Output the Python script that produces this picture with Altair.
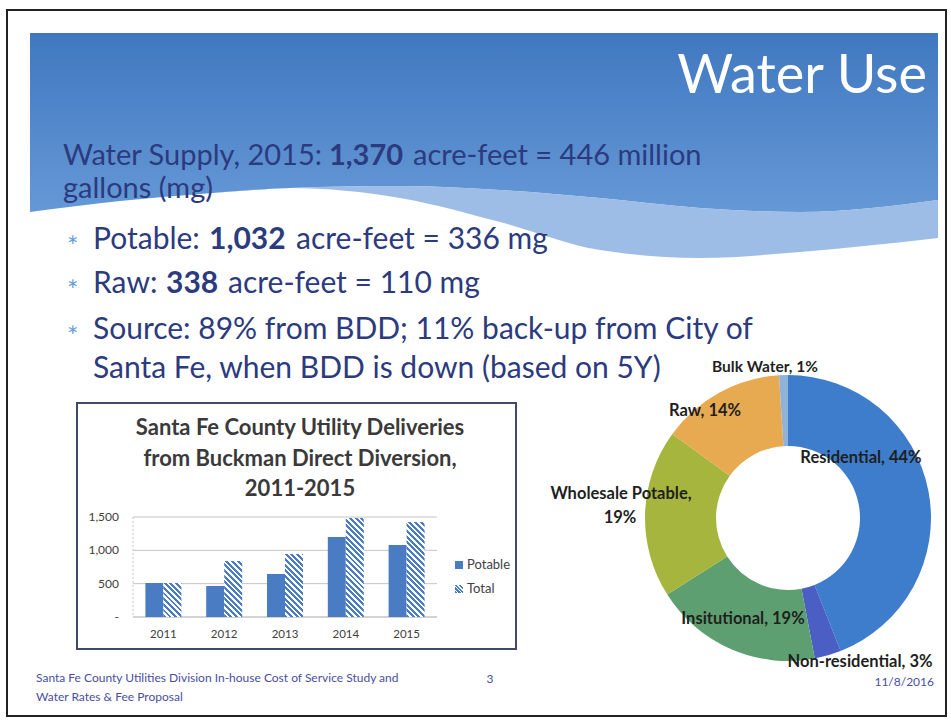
import math
import altair as alt
import pandas as pd

# ---------------- data ----------------
years = ["2011", "2012", "2013", "2014", "2015"]
potable = [510, 465, 645, 1200, 1080]
total = [510, 840, 945, 1485, 1425]
tick_values = [0, 500, 1000, 1500]
tick_labels = ["-", "500", "1,000", "1,500"]
series_names = ["Potable", "Total"]

pie_cats = ["Residential", "Non-residential", "Insitutional",
            "Wholesale Potable", "Raw", "Bulk Water"]
pie_vals = [44, 3, 19, 19, 14, 1]
pie_colors = ["#3e7dcb", "#4a5ec4", "#5d9f70", "#a6b53e", "#e8aa50", "#8fb2d8"]

# decorative header wave (pixel space)
wave_x = [30, 120, 200, 290, 400, 500, 600, 700, 800, 938]
wave_upper = [212, 201, 194, 188, 186, 190, 198, 208, 212, 200]
wave_lower = [212, 201, 194, 188, 198, 222, 250, 258, 252, 238]

W, H = 951, 723
BLUE = "#4a7cc4"
NAVY = "#2c3a7e"

PXX = alt.Scale(domain=[0, W], range=[0, W], nice=False, zero=False)
PXY = alt.Scale(domain=[0, H], range=[0, H], nice=False, zero=False)


def txt(s, x, y, size, color, weight="normal", align="left",
        baseline="alphabetic", font="Lato"):
    return alt.Chart(alt.Data(values=[{"t": s}])).mark_text(
        x=x, y=y, fontSize=size, color=color, fontWeight=weight,
        align=align, baseline=baseline, font=font
    ).encode(text="t:N")


layers = []

# slide frame
layers.append(alt.Chart(alt.Data(values=[{}])).mark_rect(
    x=7, x2=946, y=10, y2=716, fill="white", stroke="#222222", strokeWidth=2
).encode(opacity=alt.value(1)))

# header
wave_df = pd.DataFrame({"x": wave_x, "u": wave_upper, "l": wave_lower,
                        "top": [33] * len(wave_x)})
grad_header = {"gradient": "linear", "x1": 0, "y1": 0, "x2": 0, "y2": 1,
               "stops": [{"offset": 0, "color": "#4078c0"},
                         {"offset": 1, "color": "#6598d6"}]}
layers.append(alt.Chart(wave_df).mark_area(
    interpolate="monotone", fill=grad_header, stroke=None).encode(
    x=alt.X("x:Q", scale=PXX, axis=None),
    y=alt.Y("u:Q", scale=PXY, axis=None),
    y2="top:Q"))
layers.append(alt.Chart(wave_df).mark_area(
    interpolate="monotone", fill="#8cb1e2", opacity=0.85, stroke=None).encode(
    x=alt.X("x:Q", scale=PXX, axis=None),
    y=alt.Y("l:Q", scale=PXY, axis=None),
    y2="u:Q"))

layers.append(txt("Water Use", 927, 93, 54, "white", align="right"))

# header text lines
layers += [
    txt("Water Supply, 2015:", 63, 165, 29, NAVY),
    txt("1,370", 329, 165, 29, NAVY, weight="bold"),
    txt("acre-feet = 446 million", 413, 165, 29, NAVY),
    txt("gallons (mg)", 63, 198, 29, NAVY),
]
bul = "#6a9bde"
for yb in [249, 293, 339]:
    layers.append(txt("*", 67, yb + 7, 27, bul))
layers += [
    txt("Potable:", 93, 249, 30, NAVY),
    txt("1,032", 209, 249, 30, NAVY, weight="bold"),
    txt("acre-feet = 336 mg", 296, 249, 30, NAVY),
    txt("Raw:", 93, 293, 30, NAVY),
    txt("338", 166, 293, 30, NAVY, weight="bold"),
    txt("acre-feet = 110 mg", 228, 293, 30, NAVY),
    txt("Source: 89% from BDD; 11% back-up from City of", 93, 339, 30, NAVY),
    txt("Santa Fe, when BDD is down (based on 5Y)", 93, 378, 30, NAVY),
]

# ---------------- bar chart ----------------
layers.append(alt.Chart(alt.Data(values=[{}])).mark_rect(
    x=77, x2=516, y=403, y2=649, fill="white", stroke="#3e4a68", strokeWidth=2
).encode(opacity=alt.value(1)))
TITLE_C = "#3a3a3a"
layers += [
    txt("Santa Fe County Utility Deliveries", 300, 435, 22, TITLE_C, weight="bold", align="center"),
    txt("from Buckman Direct Diversion,", 300, 466, 22, TITLE_C, weight="bold", align="center"),
    txt("2011-2015", 300, 496, 22, TITLE_C, weight="bold", align="center"),
]

XB = alt.Scale(domain=years, range=[133, 437], paddingInner=0, paddingOuter=0)
YB = alt.Scale(domain=[0, 1500], range=[617, 517], nice=False)
bar_df = pd.DataFrame({"year": years, "Potable": potable, "Total": total})

grid_df = pd.DataFrame({"v": tick_values, "lab": tick_labels})
layers.append(alt.Chart(grid_df).transform_filter(alt.datum.v > 0).mark_rule(
    x=133, x2=437, color="#c4c4c4", strokeWidth=1).encode(
    y=alt.Y("v:Q", scale=YB, axis=None)))
layers.append(alt.Chart(grid_df).transform_filter(alt.datum.v == 0).mark_rule(
    x=133, x2=437, color="#a8a8a8", strokeWidth=1).encode(
    y=alt.Y("v:Q", scale=YB, axis=None)))
layers.append(alt.Chart(alt.Data(values=[{}])).mark_rule(
    color="#c8c8c8", strokeDash=[2, 2]).encode(
    x=alt.value(133), y=alt.value(517), y2=alt.value(617)))
layers.append(alt.Chart(grid_df).mark_text(
    x=119, align="right", baseline="middle", fontSize=12, color="#404040",
    font="Lato").encode(y=alt.Y("v:Q", scale=YB, axis=None), text="lab:N"))

BW = 18
layers.append(alt.Chart(bar_df).mark_bar(
    width=BW, xOffset=-BW / 2, color=BLUE).encode(
    x=alt.X("year:N", scale=XB, axis=None),
    y=alt.Y("Potable:Q", scale=YB, axis=None)))


def stripe_grad(w, h, period=4.0, frac=0.52):
    c = (w + h) / (w * w + h * h)
    R = (w + h) / math.sqrt(2)
    n = R / period
    stops = []
    k = 0
    while k / n < 1:
        o0 = k / n
        o1 = min((k + frac) / n, 1)
        o2 = min((k + 1) / n, 1)
        stops += [{"offset": o0, "color": BLUE}, {"offset": o1, "color": BLUE},
                  {"offset": o1, "color": "white"}, {"offset": o2, "color": "white"}]
        k += 1
    return {"gradient": "linear", "x1": 0, "y1": 1, "x2": c * w, "y2": 1 - c * h,
            "stops": stops}


px_per_unit = 100 / 1500
for yr, val in zip(years, total):
    g = stripe_grad(BW, val * px_per_unit)
    layers.append(alt.Chart(bar_df).transform_filter(
        alt.datum.year == yr).mark_bar(
        width=BW, xOffset=BW / 2, fill=g).encode(
        x=alt.X("year:N", scale=XB, axis=None),
        y=alt.Y("Total:Q", scale=YB, axis=None)))

layers.append(alt.Chart(bar_df).mark_text(
    y=635, align="center", baseline="middle", fontSize=11.5, color="#404040",
    font="Lato").encode(x=alt.X("year:N", scale=XB, axis=None), text="year:N"))

# legend
layers.append(alt.Chart(alt.Data(values=[{}])).mark_rect(
    x=455, x2=463, y=561, y2=569, fill=BLUE).encode(opacity=alt.value(1)))
layers.append(alt.Chart(alt.Data(values=[{}])).mark_rect(
    x=455, x2=463, y=585, y2=593, fill=stripe_grad(8, 8, period=2.8)).encode(
    opacity=alt.value(1)))
layers.append(txt(series_names[0], 467, 565, 13, "#404040", baseline="middle"))
layers.append(txt(series_names[1], 467, 589, 13, "#404040", baseline="middle"))

# ---------------- donut ----------------
pie_df = pd.DataFrame({"cat": pie_cats, "share": pie_vals,
                       "idx": list(range(len(pie_cats)))})
layers.append(alt.Chart(pie_df).mark_arc(
    innerRadius=72, outerRadius=143, x=788, y=518).encode(
    theta=alt.Theta("share:Q", stack=True),
    color=alt.Color("cat:N", scale=alt.Scale(domain=pie_cats, range=pie_colors),
                    legend=None),
    order=alt.Order("idx:Q")))

LAB = "#1f1f1f"
LS = 16.5
lab = {c: f"{c}, {v}%" for c, v in zip(pie_cats, pie_vals)}
layers += [
    txt(lab["Bulk Water"], 765, 367, LS - 1, LAB, weight="bold", align="center", baseline="middle"),
    txt(lab["Raw"], 705, 411, LS, LAB, weight="bold", align="center", baseline="middle"),
    txt(lab["Residential"], 861, 458, LS, LAB, weight="bold", align="center", baseline="middle"),
    txt("Wholesale Potable,", 621, 494, LS, LAB, weight="bold", align="center", baseline="middle"),
    txt(f"{pie_vals[3]}%", 620, 518, LS, LAB, weight="bold", align="center", baseline="middle"),
    txt(lab["Insitutional"], 743, 619, LS, LAB, weight="bold", align="center", baseline="middle"),
    txt(lab["Non-residential"], 860, 662, LS, LAB, weight="bold", align="center", baseline="middle"),
]

# footer
FOOT = "#4a4ea0"
layers += [
    txt("Santa Fe County Utilities Division In-house Cost of Service Study and", 36, 682, 12, FOOT),
    txt("Water Rates & Fee Proposal", 36, 701, 12, FOOT),
    txt("3", 490, 683, 12, FOOT, align="center"),
    txt("11/8/2016", 934, 686, 12, FOOT, align="right"),
]

chart = alt.layer(*layers).resolve_scale(
    x="independent", y="independent", color="independent", theta="independent"
).properties(
    width=W, height=H, autosize=alt.AutoSizeParams(type="none"), padding=0,
    background="white"
).configure_view(stroke=None)

chart.save("out.html", embed_options={"renderer": "svg", "actions": False})
